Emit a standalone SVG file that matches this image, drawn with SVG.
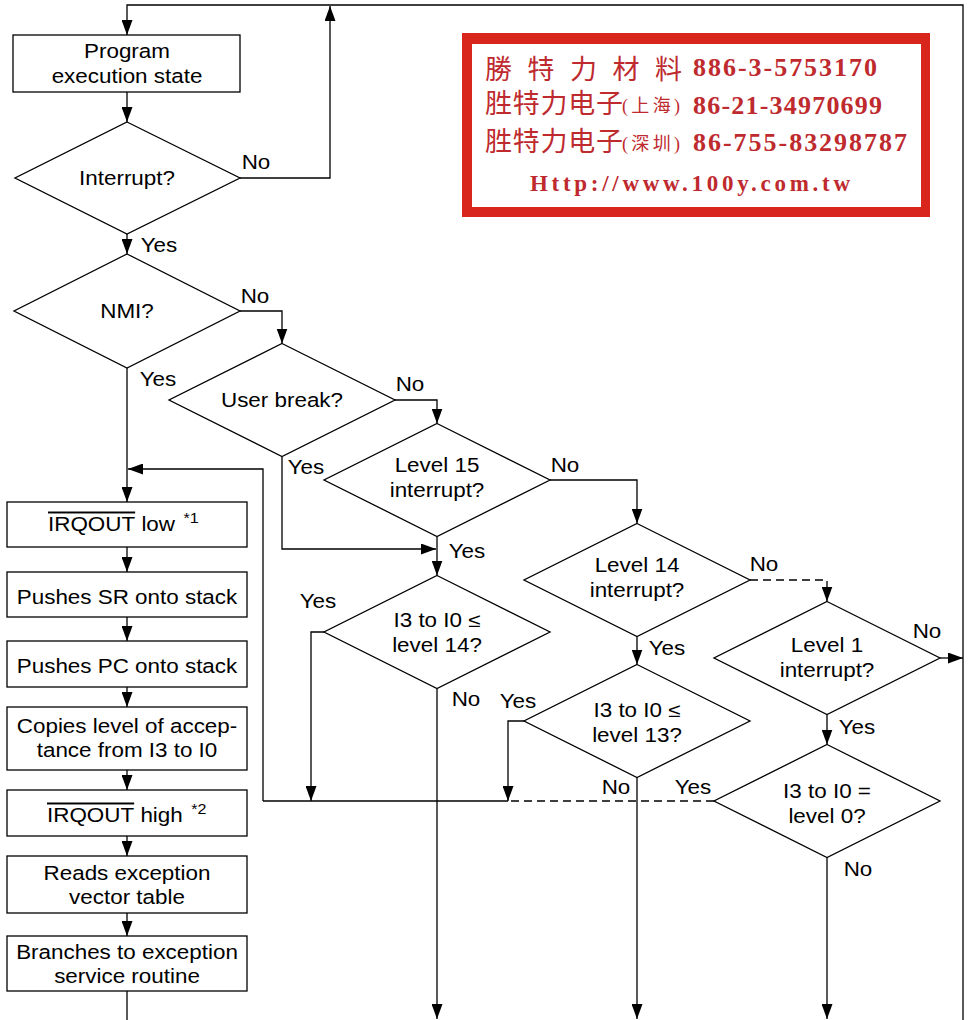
<svg xmlns="http://www.w3.org/2000/svg" width="968" height="1020" viewBox="0 0 968 1020">
<style>
.bg{fill:#fff}
.n{fill:#fff;stroke:#000;stroke-width:1.3}
.c{fill:none;stroke:#000;stroke-width:1.3}
.d{fill:none;stroke:#000;stroke-width:1.3;stroke-dasharray:8 5}
.t{font-family:"Liberation Sans",Arial,sans-serif;font-size:19.5px;fill:#000;text-anchor:middle}
.s{text-anchor:start}
.cj{font-family:"Liberation Serif","Noto Sans CJK TC",serif;fill:#be2a2e}
.num{font-family:"Liberation Serif",serif;font-weight:bold;fill:#be2a2e}
</style>
<defs>
<marker id="a" viewBox="0 0 15 11" refX="15" refY="5.5" markerWidth="15" markerHeight="11" markerUnits="userSpaceOnUse" orient="auto">
<path d="M0,0 L15,5.5 L0,11 z" fill="#000"/>
</marker>
</defs>
<rect class="bg" x="0" y="0" width="968" height="1020"/>

<g id="connectors">
<path class="c" d="M963,1020 V5 H127 V35" marker-end="url(#a)"/>
<path class="c" d="M240,178 H330 V6" marker-end="url(#a)"/>
<path class="c" d="M127,92 V122" marker-end="url(#a)"/>
<path class="c" d="M127,234 V254" marker-end="url(#a)"/>
<path class="c" d="M240,311 H282 V343.5" marker-end="url(#a)"/>
<path class="c" d="M127,368 V502" marker-end="url(#a)"/>
<path class="c" d="M263,801 V469 H128" marker-end="url(#a)"/>
<path class="c" d="M395,400 H437 V423.5" marker-end="url(#a)"/>
<path class="c" d="M282,457 V549 H436" marker-end="url(#a)"/>
<path class="c" d="M550,480 H637 V523.5" marker-end="url(#a)"/>
<path class="c" d="M437,537 V575.5" marker-end="url(#a)"/>
<path class="d" d="M750,580 H827 V601.5" marker-end="url(#a)"/>
<path class="c" d="M637,637 V664.5" marker-end="url(#a)"/>
<path class="c" d="M324,632 H311 V801" marker-end="url(#a)"/>
<path class="c" d="M437,689 V1019" marker-end="url(#a)"/>
<path class="c" d="M524,721 H508 V801" marker-end="url(#a)"/>
<path class="c" d="M637,778 V1019" marker-end="url(#a)"/>
<path class="c" d="M940,658 H963" marker-end="url(#a)"/>
<path class="c" d="M827,715 V744.5" marker-end="url(#a)"/>
<path class="d" d="M714,801 H508"/>
<path class="c" d="M508,801 H263"/>
<path class="c" d="M827,858 V1019" marker-end="url(#a)"/>
<path class="c" d="M127,547 V572" marker-end="url(#a)"/>
<path class="c" d="M127,617 V641" marker-end="url(#a)"/>
<path class="c" d="M127,687 V707" marker-end="url(#a)"/>
<path class="c" d="M127,770 V790" marker-end="url(#a)"/>
<path class="c" d="M127,836 V856" marker-end="url(#a)"/>
<path class="c" d="M127,913 V936" marker-end="url(#a)"/>
<path class="c" d="M127,991 V1020"/>
</g>

<g id="labels">
<text class="t" transform="matrix(1.15 0 0 1 256 169)">No</text>
<text class="t" transform="matrix(1.15 0 0 1 159 252)">Yes</text>
<text class="t" transform="matrix(1.15 0 0 1 255 303)">No</text>
<text class="t" transform="matrix(1.15 0 0 1 158 386)">Yes</text>
<text class="t" transform="matrix(1.15 0 0 1 410 391)">No</text>
<text class="t" transform="matrix(1.15 0 0 1 306 474)">Yes</text>
<text class="t" transform="matrix(1.15 0 0 1 565 472)">No</text>
<text class="t" transform="matrix(1.15 0 0 1 467 558)">Yes</text>
<text class="t" transform="matrix(1.15 0 0 1 764 571)">No</text>
<text class="t" transform="matrix(1.15 0 0 1 667 655)">Yes</text>
<text class="t" transform="matrix(1.15 0 0 1 318 608)">Yes</text>
<text class="t" transform="matrix(1.15 0 0 1 466 706)">No</text>
<text class="t" transform="matrix(1.15 0 0 1 927 638)">No</text>
<text class="t" transform="matrix(1.15 0 0 1 857 734)">Yes</text>
<text class="t" transform="matrix(1.15 0 0 1 518 708)">Yes</text>
<text class="t" transform="matrix(1.15 0 0 1 616 794)">No</text>
<text class="t" transform="matrix(1.15 0 0 1 693 794)">Yes</text>
<text class="t" transform="matrix(1.15 0 0 1 858 876)">No</text>
</g>

<g id="program">
<rect class="n" x="13" y="35" width="227" height="57"/>
<text class="t" transform="matrix(1.15 0 0 1 127 58)">Program</text>
<text class="t" transform="matrix(1.15 0 0 1 127 83)">execution state</text>
</g>
<g id="interrupt">
<polygon class="n" points="127,122 240,178 127,234 15,178"/>
<text class="t" transform="matrix(1.15 0 0 1 127 185)">Interrupt?</text>
</g>
<g id="nmi">
<polygon class="n" points="127,254 240,311 127,368 14,311"/>
<text class="t" transform="matrix(1.15 0 0 1 127 318)">NMI?</text>
</g>
<g id="userbreak">
<polygon class="n" points="282,343.5 395,400 282,456.5 169,400"/>
<text class="t" transform="matrix(1.15 0 0 1 282 407)">User break?</text>
</g>
<g id="level15">
<polygon class="n" points="437,423.5 550,480 437,536.5 324,480"/>
<text class="t" transform="matrix(1.15 0 0 1 437 472)">Level 15</text>
<text class="t" transform="matrix(1.15 0 0 1 437 497)">interrupt?</text>
</g>
<g id="level14">
<polygon class="n" points="637,523.5 750,580 637,636.5 524,580"/>
<text class="t" transform="matrix(1.15 0 0 1 637 572)">Level 14</text>
<text class="t" transform="matrix(1.15 0 0 1 637 597)">interrupt?</text>
</g>
<g id="mask14">
<polygon class="n" points="437,575.5 550,632 437,688.5 324,632"/>
<text class="t" transform="matrix(1.15 0 0 1 437 627)">I3 to I0 ≤</text>
<text class="t" transform="matrix(1.15 0 0 1 437 652)">level 14?</text>
</g>
<g id="mask13">
<polygon class="n" points="637,664.5 750,721 637,777.5 524,721"/>
<text class="t" transform="matrix(1.15 0 0 1 637 717)">I3 to I0 ≤</text>
<text class="t" transform="matrix(1.15 0 0 1 637 742)">level 13?</text>
</g>
<g id="level1">
<polygon class="n" points="827,601.5 940,658 827,714.5 714,658"/>
<text class="t" transform="matrix(1.15 0 0 1 827 652)">Level 1</text>
<text class="t" transform="matrix(1.15 0 0 1 827 677)">interrupt?</text>
</g>
<g id="mask0">
<polygon class="n" points="827,744.5 940,801 827,857.5 714,801"/>
<text class="t" transform="matrix(1.15 0 0 1 827 798)">I3 to I0 =</text>
<text class="t" transform="matrix(1.15 0 0 1 827 823)">level 0?</text>
</g>

<g id="irqlow">
<rect class="n" x="7" y="502" width="240" height="45"/>
<text class="t s" transform="matrix(1.15 0 0 1 48 531)"><tspan text-decoration="overline">IRQOUT</tspan> low <tspan font-size="14" dx="2" dy="-8">*1</tspan></text>
</g>
<g id="pushsr">
<rect class="n" x="7" y="572" width="240" height="45"/>
<text class="t" transform="matrix(1.15 0 0 1 127 604)">Pushes SR onto stack</text>
</g>
<g id="pushpc">
<rect class="n" x="7" y="641" width="240" height="46"/>
<text class="t" transform="matrix(1.15 0 0 1 127 673)">Pushes PC onto stack</text>
</g>
<g id="copies">
<rect class="n" x="7" y="707" width="240" height="63"/>
<text class="t" transform="matrix(1.15 0 0 1 127 733)">Copies level of accep-</text>
<text class="t" transform="matrix(1.15 0 0 1 127 757)">tance from I3 to I0</text>
</g>
<g id="irqhigh">
<rect class="n" x="7" y="790" width="240" height="46"/>
<text class="t s" transform="matrix(1.15 0 0 1 47 822)"><tspan text-decoration="overline">IRQOUT</tspan> high <tspan font-size="14" dx="2" dy="-8">*2</tspan></text>
</g>
<g id="reads">
<rect class="n" x="7" y="856" width="240" height="57"/>
<text class="t" transform="matrix(1.15 0 0 1 127 880)">Reads exception</text>
<text class="t" transform="matrix(1.15 0 0 1 127 904)">vector table</text>
</g>
<g id="branches">
<rect class="n" x="7" y="936" width="240" height="55"/>
<text class="t" transform="matrix(1.15 0 0 1 127 959)">Branches to exception</text>
<text class="t" transform="matrix(1.15 0 0 1 127 983)">service routine</text>
</g>

<g id="stamp">
<rect x="462" y="33" width="468" height="184" fill="#d8261c"/>
<rect x="472" y="44" width="449" height="163" fill="#fff"/>
<text class="cj" x="485" y="79" font-size="27" textLength="197" lengthAdjust="spacing">勝特力材料</text>
<text class="num" x="693" y="76" font-size="26" textLength="184" lengthAdjust="spacing">886-3-5753170</text>
<text class="cj" x="485" y="113" font-size="27" textLength="138" lengthAdjust="spacing">胜特力电子</text>
<text class="cj" x="622" y="112" font-size="18" textLength="58" lengthAdjust="spacing">(上海)</text>
<text class="num" x="693" y="114" font-size="26" textLength="189" lengthAdjust="spacing">86-21-34970699</text>
<text class="cj" x="485" y="151" font-size="27" textLength="138" lengthAdjust="spacing">胜特力电子</text>
<text class="cj" x="622" y="150" font-size="18" textLength="58" lengthAdjust="spacing">(深圳)</text>
<text class="num" x="693" y="151" font-size="26" textLength="214" lengthAdjust="spacing">86-755-83298787</text>
<text class="num" x="530" y="191" font-size="23" textLength="320" lengthAdjust="spacing">Http://www.100y.com.tw</text>
</g>
</svg>
